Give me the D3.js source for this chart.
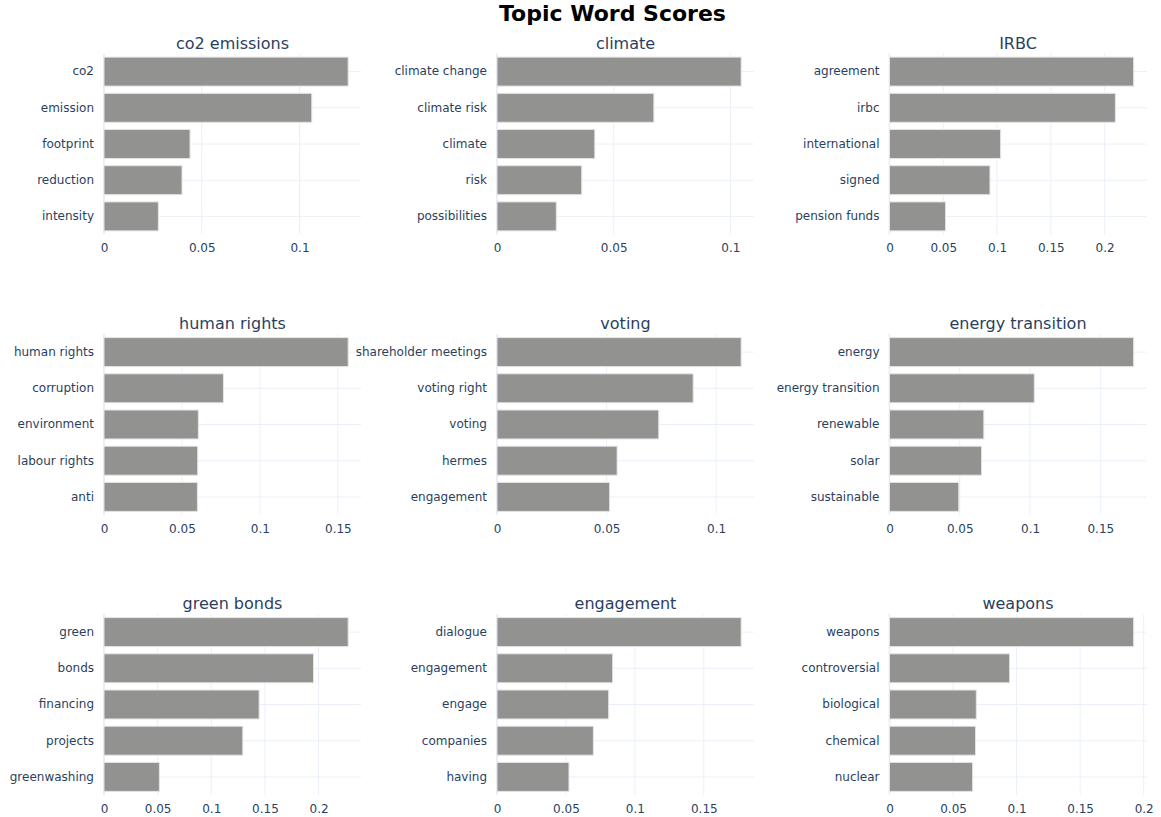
<!DOCTYPE html>
<html>
<head>
<meta charset="utf-8">
<script src="https://cdn.jsdelivr.net/npm/d3@7"></script>
<style>
  html, body { margin: 0; padding: 0; background: #fff; }
  svg { display: block; }
</style>
</head>
<body>
<svg id="chart" width="1161" height="817"></svg>
<script>
// ---- Data ----
const chartTitle = "Topic Word Scores";
const topicTitles = ["co2 emissions", "climate", "IRBC", "human rights", "voting", "energy transition", "green bonds", "engagement", "weapons"];

const words1 = ["co2", "emission", "footprint", "reduction", "intensity"];
const scores1 = [0.1249, 0.1063, 0.0440, 0.0399, 0.0278];

const words2 = ["climate change", "climate risk", "climate", "risk", "possibilities"];
const scores2 = [0.1046, 0.0672, 0.0419, 0.0363, 0.0254];

const words3 = ["agreement", "irbc", "international", "signed", "pension funds"];
const scores3 = [0.2270, 0.2100, 0.1033, 0.0934, 0.0521];

const words4 = ["human rights", "corruption", "environment", "labour rights", "anti"];
const scores4 = [0.1566, 0.0766, 0.0605, 0.0601, 0.0599];

const words5 = ["shareholder meetings", "voting right", "voting", "hermes", "engagement"];
const scores5 = [0.1114, 0.0895, 0.0738, 0.0548, 0.0514];

const words6 = ["energy", "energy transition", "renewable", "solar", "sustainable"];
const scores6 = [0.1737, 0.1030, 0.0671, 0.0655, 0.0493];

const words7 = ["green", "bonds", "financing", "projects", "greenwashing"];
const scores7 = [0.2276, 0.1953, 0.1446, 0.1294, 0.0516];

const words8 = ["dialogue", "engagement", "engage", "companies", "having"];
const scores8 = [0.1771, 0.0839, 0.0810, 0.0699, 0.0522];

const words9 = ["weapons", "controversial", "biological", "chemical", "nuclear"];
const scores9 = [0.1921, 0.0945, 0.0683, 0.0677, 0.0654];

const tickStep = 0.05;

// ---- Layout ----
const allWords = [words1, words2, words3, words4, words5, words6, words7, words8, words9];
const allScores = [scores1, scores2, scores3, scores4, scores5, scores6, scores7, scores8, scores9];

const colX = [104, 497, 889.5];
const plotW = 257;
const rowY = [53.5, 334, 614];
const plotH = 181;

const fontFamily = 'Verdana, "DejaVu Sans", sans-serif';
const textColor = "#2a3f5f";
const gridColor = "#EBF0F8";
const barColor = "#929390";

const svg = d3.select("#chart");

svg.append("text")
  .attr("x", 612.5)
  .attr("y", 21)
  .attr("text-anchor", "middle")
  .attr("font-family", fontFamily)
  .attr("font-weight", "bold")
  .attr("font-size", 22)
  .attr("fill", "#000")
  .text(chartTitle);

for (let i = 0; i < 9; i++) {
  const r = Math.floor(i / 3), c = i % 3;
  const x0 = colX[c], y0 = rowY[r];
  const words = allWords[i], scores = allScores[i];
  const maxV = d3.max(scores);
  const x = d3.scaleLinear().domain([0, maxV / 0.95]).range([0, plotW]);
  const y = d3.scaleBand().domain(words).range([0, plotH]).paddingInner(0.2).paddingOuter(0.1);

  const g = svg.append("g").attr("transform", `translate(${x0},${y0})`);

  // gridlines
  const ticks = d3.range(0, x.domain()[1] + 1e-9, tickStep);
  g.selectAll(".vg").data(ticks).enter().append("line")
    .attr("x1", d => x(d)).attr("x2", d => x(d))
    .attr("y1", 0).attr("y2", plotH)
    .attr("stroke", gridColor)
    .attr("stroke-width", d => d === 0 ? 2 : 1);
  g.selectAll(".hg").data(words).enter().append("line")
    .attr("x1", 0).attr("x2", plotW)
    .attr("y1", d => y(d) + y.bandwidth() / 2).attr("y2", d => y(d) + y.bandwidth() / 2)
    .attr("stroke", gridColor).attr("stroke-width", 1);

  // bars
  g.selectAll(".bar").data(words).enter().append("rect")
    .attr("x", x(0))
    .attr("y", d => y(d))
    .attr("width", (d, j) => x(scores[j]) - x(0))
    .attr("height", y.bandwidth())
    .attr("fill", barColor)
    .attr("stroke", "#e4e4e4")
    .attr("stroke-width", 1);

  // x axis
  const xAxis = d3.axisBottom(x).tickValues(ticks)
    .tickFormat(d => String(+d.toFixed(2))).tickSize(0).tickPadding(9);
  const gx = g.append("g").attr("transform", `translate(0,${plotH})`).call(xAxis);
  gx.select(".domain").remove();
  gx.selectAll("text").attr("font-family", fontFamily).attr("font-size", 12).attr("fill", textColor);

  // y axis
  const yAxis = d3.axisLeft(y).tickSize(0).tickPadding(10);
  const gy = g.append("g").call(yAxis);
  gy.select(".domain").remove();
  gy.selectAll("text").attr("font-family", fontFamily).attr("font-size", 12).attr("fill", textColor);

  // subplot title
  g.append("text")
    .attr("x", plotW / 2)
    .attr("y", -5)
    .attr("text-anchor", "middle")
    .attr("font-family", fontFamily)
    .attr("font-size", 16)
    .attr("fill", textColor)
    .text(topicTitles[i]);
}
</script>
</body>
</html>
